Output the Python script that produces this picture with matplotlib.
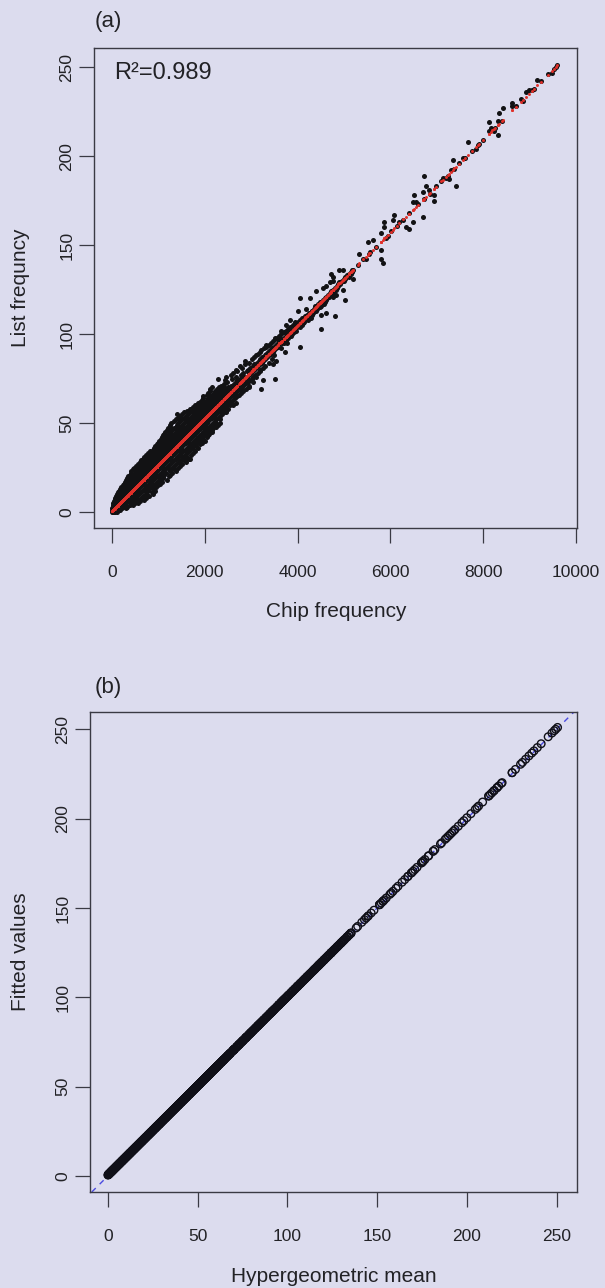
import matplotlib
matplotlib.use("Agg")
import matplotlib.pyplot as plt
import numpy as np

plt.rcParams["font.family"] = ["Liberation Sans", "DejaVu Sans"]

PAGE = "#dcdcee"
INK = "#222226"
FRAME = "#3a3a44"
RED = "#e0302a"
BLUE = "#4a4ae0"

# ---------------------------------------------------------------------------
# Panel (a): genes in the dense part of the range, grouped by list frequency
# (key) with the chip frequencies observed at that count (values)
chip_by_count = {
    0: [0, 15, 30, 50, 75, 105],
    1: [5, 25, 45, 70, 95, 130, 180],
    2: [10, 40, 65, 90, 120, 160, 210, 300],
    3: [20, 55, 85, 115, 150, 190, 240, 330],
    4: [15, 70, 100, 140, 175, 215, 270, 380, 460],
    5: [20, 60, 95, 130, 170, 205, 250, 310, 420, 490, 560],
    6: [45, 90, 125, 165, 200, 240, 285, 340, 430, 510, 600],
    7: [60, 105, 150, 190, 230, 270, 315, 370, 470, 570, 680],
    8: [75, 120, 170, 215, 255, 300, 345, 400, 500, 620, 740],
    9: [90, 150, 200, 245, 290, 330, 375, 430, 540, 670, 800],
    10: [110, 170, 225, 270, 315, 360, 410, 470, 580, 730, 880],
    11: [130, 195, 250, 300, 345, 390, 440, 505, 620, 740, 860],
    12: [150, 220, 280, 330, 380, 425, 475, 540, 650, 780, 920],
    13: [175, 250, 305, 360, 410, 460, 510, 570, 700, 800, 900],
    14: [200, 270, 335, 390, 445, 495, 545, 610, 730, 840, 950],
    15: [240, 300, 365, 420, 475, 530, 585, 650, 770, 880, 1000],
    16: [250, 320, 390, 450, 510, 565, 620, 690, 810, 920, 1040],
    17: [280, 350, 420, 480, 540, 600, 660, 720, 850, 960, 1080],
    18: [300, 380, 450, 515, 575, 640, 700, 770, 890, 1030, 1180],
    19: [330, 410, 480, 545, 610, 670, 735, 810, 930, 1010, 1100],
    20: [350, 440, 510, 580, 640, 710, 775, 850, 970, 1090, 1220],
    21: [380, 460, 540, 610, 680, 745, 810, 880, 1010, 1130, 1250],
    22: [400, 490, 570, 640, 710, 780, 850, 920, 1050, 1170, 1300],
    23: [420, 520, 600, 680, 750, 820, 890, 960, 1090, 1240, 1390],
    24: [450, 550, 630, 710, 785, 855, 925, 1000, 1130, 1230, 1340],
    25: [470, 570, 660, 740, 820, 890, 960, 1040, 1170, 1290, 1420],
    26: [520, 600, 690, 770, 850, 925, 1000, 1080, 1210, 1330, 1460],
    27: [560, 640, 720, 800, 885, 960, 1040, 1120, 1250, 1370, 1500],
    28: [600, 680, 760, 840, 920, 1000, 1080, 1160, 1290, 1440, 1600],
    29: [630, 710, 790, 870, 955, 1035, 1115, 1200, 1330, 1440, 1550, 1570],
    30: [660, 740, 830, 910, 990, 1070, 1150, 1240, 1370, 1510, 1650, 1677],
    31: [700, 780, 860, 940, 1020, 1110, 1190, 1280, 1410, 1510, 1620],
    32: [740, 820, 900, 980, 1060, 1145, 1230, 1320, 1450, 1570, 1700],
    33: [780, 860, 940, 1020, 1100, 1180, 1270, 1360, 1490, 1620, 1750],
    34: [820, 900, 980, 1060, 1140, 1220, 1310, 1400, 1530, 1660, 1790],
    35: [880, 940, 1020, 1100, 1180, 1260, 1350, 1440, 1570, 1660, 1760],
    36: [900, 970, 1050, 1130, 1215, 1300, 1390, 1480, 1610, 1730, 1850],
    37: [930, 1010, 1090, 1170, 1255, 1340, 1430, 1520, 1650, 1740, 1820],
    38: [960, 1040, 1120, 1210, 1295, 1380, 1470, 1560, 1690, 1800, 1900],
    39: [990, 1080, 1160, 1250, 1335, 1420, 1510, 1600, 1730, 1840, 1950],
    40: [1020, 1110, 1200, 1290, 1375, 1460, 1550, 1640, 1770, 1880, 2000],
    41: [1050, 1140, 1230, 1320, 1410, 1500, 1590, 1680, 1810, 1890, 1960],
    42: [1080, 1170, 1270, 1360, 1450, 1540, 1630, 1720, 1850, 1950, 2040],
    43: [1100, 1200, 1300, 1400, 1490, 1580, 1670, 1760, 1890, 1990, 2080],
    44: [1130, 1230, 1340, 1440, 1530, 1620, 1710, 1800, 1930, 2020, 2100],
    45: [1150, 1260, 1370, 1470, 1570, 1660, 1750, 1840, 1970, 2060, 2150],
    46: [1180, 1300, 1410, 1510, 1610, 1700, 1790, 1880, 2010, 2090, 2160],
    47: [1210, 1340, 1450, 1550, 1650, 1740, 1830, 1920, 2050, 2120, 2180],
    48: [1240, 1370, 1490, 1590, 1690, 1780, 1870, 1960, 2090, 2170, 2250],
    49: [1260, 1400, 1520, 1630, 1730, 1820, 1910, 2000, 2130, 2210, 2290],
    50: [1280, 1430, 1560, 1670, 1770, 1860, 1950, 2040, 2170, 2250, 2330],
    51: [1340, 1470, 1600, 1710, 1810, 1900, 1990, 2080, 2210],
    52: [1390, 1510, 1640, 1750, 1850, 1940, 2030, 2120, 2250, 2330],
    53: [1420, 1550, 1680, 1790, 1890, 1980, 2070, 2160, 2280],
    54: [1460, 1590, 1720, 1830, 1930, 2020, 2110, 2200, 2330],
    55: [1391, 1500, 1630, 1760, 1870, 1970, 2060, 2150, 2240, 2370],
    56: [1560, 1680, 1800, 1910, 2010, 2100, 2190, 2290, 2420, 2466],
    57: [1620, 1677, 1730, 1840, 1950, 2050, 2140, 2230, 2330, 2460],
    58: [1680, 1780, 1880, 1990, 2090, 2180, 2280, 2380, 2500],
    59: [1740, 1830, 1930, 2030, 2130, 2230, 2330, 2430],
    60: [1800, 1880, 1970, 2070, 2170, 2270, 2370, 2470, 2540, 2600],
    61: [1850, 1892, 1940, 2020, 2110, 2210, 2310, 2410, 2520, 2681],
    62: [1890, 1990, 2070, 2160, 2250, 2350, 2450, 2560],
    63: [1930, 2040, 2120, 2200, 2290, 2390, 2490, 2600],
    64: [1960, 2080, 2160, 2250, 2340, 2430, 2530, 2660],
    65: [1964, 2110, 2200, 2290, 2380, 2470, 2570, 2700],
    66: [2040, 2150, 2240, 2330, 2420, 2520, 2620, 2740],
    67: [2080, 2190, 2290, 2380, 2470, 2560, 2660, 2790],
    68: [2110, 2230, 2330, 2420, 2510, 2600, 2700, 2830],
    69: [2108, 2270, 2370, 2460, 2550, 2650, 2750, 2880, 3219],
    70: [2150, 2310, 2410, 2500, 2600, 2700, 2800, 2950],
    71: [2350, 2560, 2690, 2800, 2960],
    72: [2420, 2620, 2750, 2870],
    73: [2480, 2680, 2790, 2897, 2930, 3050],
    74: [2440, 2700, 2830, 2960, 3254],
    75: [2287, 2590, 2760, 2880, 3010, 3505],
    76: [2466, 2680, 2850, 2920, 3039, 3100],
    77: [2560, 2790, 2950, 3080],
    78: [2609, 2830, 2990, 3150],
    79: [2700, 2900, 3020, 3180],
    80: [2680, 2940, 3060, 3200],
    81: [2800, 2980, 3100, 3260],
    82: [2753, 3030, 3140, 3300],
    83: [2870, 3060, 3190, 3469],
    84: [2950, 3120, 3230, 3380],
    85: [2860, 3160, 3260, 3541],
    86: [3010, 3200, 3300, 3450],
    87: [3060, 3240, 3340],
    88: [3100, 3290, 3380, 3500],
    89: [3150, 3330, 3420],
    90: [3200, 3370, 3460, 3720],
    91: [3219, 3410, 3500],
    92: [3280, 3450, 3540, 3650],
    93: [3330, 3490, 3580, 4043],
    94: [3326, 3380, 3530],
    95: [3420, 3570, 3620, 3660, 3700, 3780],
    96: [3470, 3610, 3655, 3700, 3740],
    97: [3520, 3650, 3700, 3750],
    98: [3505, 3560, 3700, 3740, 3790],
    99: [3610, 3740, 3775, 3850],
    100: [3650, 3780, 3815, 3870],
    101: [3700, 3830, 3860, 3920],
    102: [3649, 3750, 3860, 3900, 3960],
    103: [3800, 3920, 3950, 4510],
    104: [3840, 3960, 3990, 4050],
    105: [3750, 3900, 3990, 4030, 4090],
    106: [3950, 4050, 4070, 4120],
    107: [3935, 4000, 4100, 4130],
    108: [3828, 4060, 4120, 4170, 4230],
    109: [4100, 4165, 4200, 4280],
    110: [4150, 4210, 4250, 4796],
    111: [4200, 4240, 4300, 4510],
    112: [4250, 4270, 4330, 4617],
    113: [4007, 4300, 4320, 4390],
    114: [4187, 4350, 4380, 4420],
    115: [4400, 4420, 4480],
    116: [4366, 4430, 4460, 4500],
    117: [4450, 4480, 4520, 4560],
    118: [4490, 4520, 4580],
    119: [4540, 4560, 4610, 5011],
    120: [4043, 4258, 4580, 4640],
    121: [4610, 4650, 4680, 4760],
    122: [4650, 4700, 4832],
    123: [4690, 4730, 4760],
    124: [4402, 4720, 4770],
    125: [4760, 4780, 4820, 4975],
    126: [4545, 4800, 4850],
    127: [4617, 4840, 4880],
    128: [4880, 4920],
    129: [4688, 4903, 4940],
    130: [4760, 4950, 4990],
    131: [4990, 5030, 5190],
    132: [4760, 5030, 5118],
    133: [5070, 5100],
    134: [4724, 5110, 5150],
    135: [5150, 5180],
    136: [4903, 4975, 5190],
}

# Panel (a): sparser genes at the top of the range
top_chip = [5835, 5799, 5477, 5799, 5548, 5333, 5513, 5620, 5943, 5799,
            5871, 5871, 6050, 6086, 6194, 6337, 6409, 6480, 6695, 6480,
            6552, 6516, 6695, 6946, 6946, 6839, 6767, 6731, 7412, 7269,
            7125, 7233, 7305, 7341, 7556, 7663, 7842, 7914, 8129, 8237,
            8308, 8200, 8165, 8129, 8308, 8344, 8416, 8630, 8630, 8810,
            8918, 8989, 9097, 9168, 9480, 9530, 9600,
            5050, 5180, 5300, 5420, 5560, 5680, 5900, 6020, 6150, 6280,
            6400, 6600, 6720, 6850, 6980, 7100, 7200, 7380, 7480, 7600,
            7750, 7880, 8000, 8250, 8400, 8700, 8850, 9050, 9250, 9400,
            9560]
top_list = [140, 142, 142, 147, 145, 145, 152, 153, 155, 157,
            160, 163, 164, 167, 163, 160, 159, 163, 166, 174,
            174, 178, 180, 175, 178, 181, 183, 189, 183, 187,
            188, 189, 192, 198, 199, 208, 204, 207, 214, 214,
            212, 215, 216, 219, 220, 224, 227, 228, 230, 232,
            236, 237, 238, 243, 247, 249, 251,
            132, 136, 139, 142, 146, 149, 154, 158, 161, 164,
            168, 173, 176, 179, 183, 186, 188, 193, 196, 199,
            203, 206, 209, 216, 220, 228, 231, 237, 242, 246,
            250]

# Linear fit of list frequency on chip frequency
fit_intercept = 0.5
fit_slope = 0.0261
r_squared = 0.989

# Share of the chip taken up by the list (hypergeometric mean = chip freq * share)
list_share = 0.0261

x_ticks_a = [0, 2000, 4000, 6000, 8000, 10000]
x_ticks_b = [0, 50, 100, 150, 200, 250]
y_ticks = [0, 50, 100, 150, 200, 250]

# ---------------------------------------------------------------------------
chip_freq, list_freq = [], []
for count, chips in chip_by_count.items():
    chip_freq += chips
    list_freq += [count] * len(chips)
chip_freq += top_chip
list_freq += top_list

chip = np.asarray(chip_freq, dtype=float)
lst = np.asarray(list_freq, dtype=float)
fitted = fit_intercept + fit_slope * chip
hyper_mean = list_share * chip

W, H = 605, 1288
fig = plt.figure(figsize=(W / 100, H / 100), dpi=100, facecolor=PAGE)


def box(left, top, right, bottom):
    return [left / W, 1 - bottom / H, (right - left) / W, (bottom - top) / H]


def style(ax, xticks):
    ax.set_facecolor(PAGE)
    for s in ax.spines.values():
        s.set_color(FRAME)
        s.set_linewidth(1.0)
    ax.set_xticks(xticks)
    ax.set_yticks(y_ticks)
    ax.set_yticklabels([str(v) for v in y_ticks], rotation=90, va="center")
    ax.tick_params(direction="out", length=10.8, width=0.9, color=FRAME,
                   labelsize=12.5, labelcolor=INK)
    ax.tick_params(axis="x", pad=16)
    ax.tick_params(axis="y", pad=3.5)


# (a) list frequency against chip frequency
axA = fig.add_axes(box(94, 48, 577, 528))
axA.scatter(chip, lst, s=13, c="#121214", linewidths=0, zorder=2)
axA.scatter(chip, fitted, s=4.5, c=RED, linewidths=0, zorder=3)
axA.set_xlim(-387, 10021)
axA.set_ylim(-9, 260.8)
style(axA, x_ticks_a)

# (b) fitted values against the hypergeometric mean
axB = fig.add_axes(box(90, 712, 577, 1192))
axB.axline((0, 0), slope=1, color=BLUE, lw=1.0, ls=(0, (4, 4)), zorder=1)
axB.scatter(hyper_mean, fitted, s=30, facecolors="none", edgecolors="#101018",
            linewidths=1.0, zorder=2)
axB.set_xlim(-10, 261.4)
axB.set_ylim(-9, 259.7)
style(axB, x_ticks_b)

# Panel letters, annotation and axis titles
txt = dict(color=INK, ha="center", va="center")
fig.text(95 / W, 1 - 22 / H, "(a)", fontsize=16, color=INK, ha="left", va="center")
fig.text(95 / W, 1 - 687 / H, "(b)", fontsize=16, color=INK, ha="left", va="center")
fig.text(114 / W, 1 - 73 / H, f"R\u00b2={r_squared:.3f}", fontsize=17,
         color=INK, ha="left", va="center")
fig.text(336 / W, 1 - 612 / H, "Chip frequency", fontsize=15, **txt)
fig.text(21 / W, 1 - 288 / H, "List frequncy", fontsize=15, rotation=90, **txt)
fig.text(334 / W, 1 - 1277 / H, "Hypergeometric mean", fontsize=15, **txt)
fig.text(21 / W, 1 - 952 / H, "Fitted values", fontsize=15, rotation=90, **txt)

fig.savefig("out.png", dpi=100, facecolor=PAGE)
